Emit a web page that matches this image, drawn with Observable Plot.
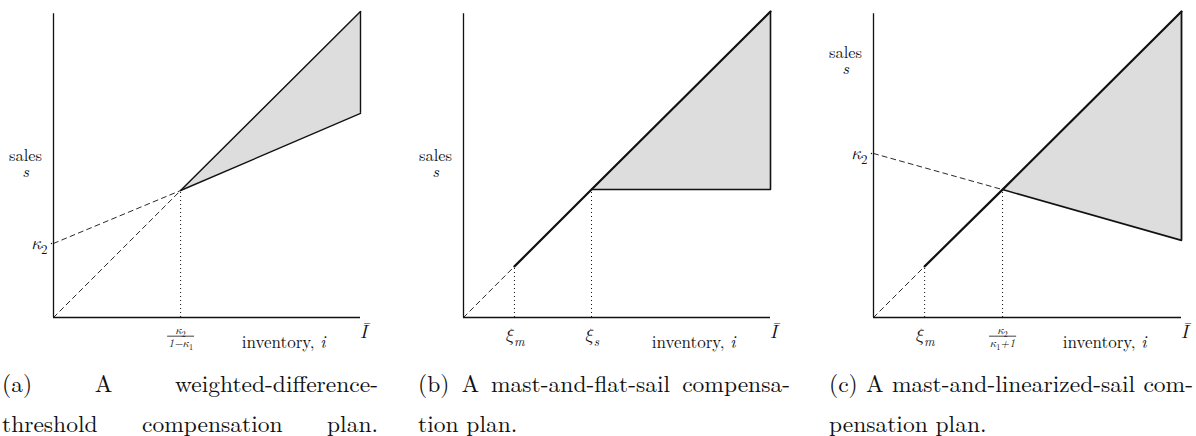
<!DOCTYPE html>
<html>
<head>
<meta charset="utf-8">
<script src="https://cdn.jsdelivr.net/npm/d3@7"></script>
<script src="https://cdn.jsdelivr.net/npm/@observablehq/plot@0.6"></script>
<style>
  html, body { margin: 0; padding: 0; background: #fff; }
  body { position: relative; width: 1196px; height: 436px; overflow: hidden; }
  .panel { position: absolute; top: 0; }
  .caption {
    position: absolute; top: 371px;
    font-family: 'Latin Modern Roman', 'CMU Serif', 'Liberation Serif', serif;
    font-size: 23.5px; line-height: 24px; color: #111;
  }
  .caption div { white-space: nowrap; text-align: left; height: 24px; }
  .caption div + div { margin-top: 16px; }
  .caption div.just { text-align: justify; text-align-last: justify; }
  svg text { font-family: 'Latin Modern Roman', 'Latin Modern Math', 'Liberation Serif', serif; }
</style>
</head>
<body>
<script>
// Inventory runs from 0 to Ī = 1; sales share the same unit.

// (a) weighted-difference-threshold plan: values at [0, κ2/(1−κ1), Ī]
const invA  = [0, 0.414, 1];
const mastA = [0, 0.415, 1.0];       // s = i
const sailA = [0.242, 0.415, 0.667]; // s = κ2 + κ1 i

// (b) mast-and-flat-sail plan: values at [0, ξm, ξs, Ī]
const invB  = [0, 0.166, 0.417, 1];
const mastB = [0, 0.167, 0.418, 1.0];
const sailB = [0.418, 0.418];        // flat sail at [ξs, Ī]

// (c) mast-and-linearized-sail plan: values at [0, ξm, κ2/(κ1+1), Ī]
const invC  = [0, 0.166, 0.419, 1];
const mastC = [0, 0.167, 0.418, 1.0];
const sailC = [0.536, 0.418, 0.252]; // sail at [0, κ2/(κ1+1), Ī]

// tick labels ("_x" = subscript, "{x}" = italic)
const ticksA = ["κ_2"];
const fracA  = ["κ_2", "1−κ_1"];
const ticksB = ["ξ_m", "ξ_s"];
const ticksC = ["κ_2", "ξ_m"];
const fracC  = ["κ_2", "κ_1+1"];

const captionA = ["(a) A weighted-difference-", "threshold compensation plan."];
const captionB = ["(b) A mast-and-flat-sail compensa-", "tion plan."];
const captionC = ["(c) A mast-and-linearized-sail com-", "pensation plan."];

const pts = (xs, ys) => xs.map((x, k) => ({i: x, s: ys[k]}));
const INK = "#111";
const FILL = "#dddddd";
const FONT = "Latin Modern Roman, Latin Modern Math, Liberation Serif, serif";

function axes() {
  return [
    Plot.ruleY([{s: 0, a: 0, b: 1}], {y: "s", x1: "a", x2: "b", stroke: INK, strokeWidth: 1.3}),
    Plot.ruleX([{i: 0, a: 0, b: 0.993}], {x: "i", y1: "a", y2: "b", stroke: INK, strokeWidth: 1.3})
  ];
}

const txt = {fill: INK, fontFamily: FONT};

function axisLabels(salesDy) {
  return [
    Plot.text(["sales"], {frameAnchor: "left", textAnchor: "middle", dx: -28, dy: salesDy, fontSize: 16.5, ...txt}),
    Plot.text(["s"], {frameAnchor: "left", textAnchor: "middle", dx: -28, dy: salesDy + 16, fontSize: 16.5, fontStyle: "italic", ...txt}),
    Plot.text(["inventory, {i}"], {frameAnchor: "bottom-right", textAnchor: "end", dx: -35, dy: 30, fontSize: 17, ...txt}),
    Plot.text(["Ī"], {frameAnchor: "bottom-right", textAnchor: "middle", dx: 3, dy: 20, fontSize: 19, fontStyle: "italic", ...txt})
  ];
}

function fraction(x, labels) {
  return [
    Plot.text([{i: x, s: 0, t: labels[0]}], {x: "i", y: "s", text: "t", dy: 13, fontSize: 11.5, fontStyle: "italic", ...txt}),
    Plot.text([{i: x, s: 0, t: labels[1]}], {x: "i", y: "s", text: "t", dy: 26, fontSize: 11.5, fontStyle: "italic", ...txt, ariaDescription: "denominator"})
  ];
}

function yTick(s, label) {
  return [
    Plot.text([{i: 0, s, t: label}], {x: "i", y: "s", text: "t", textAnchor: "end", dx: -6, fontSize: 18, fontStyle: "italic", ...txt}),
    Plot.dot([{i: 0, s}], {x: "i", y: "s", r: 0.7, dx: -2, fill: INK, stroke: null})
  ];
}

function xTick(i, label) {
  return Plot.text([{i, s: 0, t: label}], {x: "i", y: "s", text: "t", dy: 18, fontSize: 18, fontStyle: "italic", ...txt});
}

const dashed = {x: "i", y: "s", stroke: INK, strokeWidth: 0.9, strokeDasharray: "5,4"};
const dotted = {stroke: INK, strokeWidth: 1, strokeDasharray: "1,3"};

function frame(left, right, marks) {
  return Plot.plot({
    width: 400, height: 360,
    marginLeft: left, marginRight: right, marginTop: 11, marginBottom: 43,
    x: {domain: [0, 1], axis: null},
    y: {domain: [0, 1], axis: null},
    style: {background: "transparent", overflow: "visible"},
    marks
  });
}

// (a)
const bandA = [1, 2].map((k) => ({i: invA[k], lo: sailA[k], hi: mastA[k]}));
const plotA = frame(53, 40, [
  Plot.areaY(bandA, {x: "i", y1: "lo", y2: "hi", fill: FILL}),
  ...axes(),
  Plot.line(pts(invA, mastA).slice(0, 2), dashed),
  Plot.line(pts(invA, sailA).slice(0, 2), dashed),
  Plot.line(pts(invA, mastA).slice(1), {x: "i", y: "s", stroke: INK, strokeWidth: 1.4}),
  Plot.line(pts(invA, sailA).slice(1), {x: "i", y: "s", stroke: INK, strokeWidth: 1.4}),
  Plot.ruleX([bandA[1]], {x: "i", y1: "lo", y2: "hi", stroke: INK, strokeWidth: 1.4}),
  Plot.ruleX([{i: invA[1], s: mastA[1]}], {x: "i", y1: 0, y2: "s", ...dotted}),
  ...yTick(sailA[0], ticksA[0]),
  ...fraction(invA[1], fracA),
  ...axisLabels(-9)
]);

// (b)
const bandB = [{i: invB[2], lo: sailB[0], hi: mastB[2]}, {i: invB[3], lo: sailB[1], hi: mastB[3]}];
const plotB = frame(63, 30, [
  Plot.areaY(bandB, {x: "i", y1: "lo", y2: "hi", fill: FILL}),
  ...axes(),
  Plot.line(pts(invB, mastB).slice(0, 2), dashed),
  Plot.line(pts([invB[2], invB[3]], sailB), {x: "i", y: "s", stroke: INK, strokeWidth: 1.5}),
  Plot.ruleX([bandB[1]], {x: "i", y1: "lo", y2: "hi", stroke: INK, strokeWidth: 1.6}),
  Plot.line(pts(invB, mastB).slice(1), {x: "i", y: "s", stroke: INK, strokeWidth: 2.2}),
  Plot.ruleX(pts(invB, mastB).slice(1, 3), {x: "i", y1: 0, y2: "s", ...dotted}),
  xTick(invB[1], ticksB[0]),
  xTick(invB[2], ticksB[1]),
  ...axisLabels(-9)
]);

// (c)
const bandC = [{i: invC[2], lo: sailC[1], hi: mastC[2]}, {i: invC[3], lo: sailC[2], hi: mastC[3]}];
const sailPtsC = pts([invC[0], invC[2], invC[3]], sailC);
const plotC = frame(77, 15, [
  Plot.areaY(bandC, {x: "i", y1: "lo", y2: "hi", fill: FILL}),
  ...axes(),
  Plot.line(pts(invC, mastC).slice(0, 2), dashed),
  Plot.line(sailPtsC.slice(0, 2), dashed),
  Plot.line(sailPtsC.slice(1), {x: "i", y: "s", stroke: INK, strokeWidth: 1.6}),
  Plot.ruleX([bandC[1]], {x: "i", y1: "lo", y2: "hi", stroke: INK, strokeWidth: 1.8}),
  Plot.line(pts(invC, mastC).slice(1), {x: "i", y: "s", stroke: INK, strokeWidth: 2.2}),
  Plot.ruleX(pts(invC, mastC).slice(1, 3), {x: "i", y1: 0, y2: "s", ...dotted}),
  ...yTick(sailC[0], ticksC[0]),
  xTick(invC[1], ticksC[1]),
  ...fraction(invC[2], fracC),
  ...axisLabels(-112)
]);

// Place the three panels and their captions
const layout = [
  {plot: plotA, left: 0,   cap: captionA, capLeft: 2,   capWidth: 376, justify: [true, true]},
  {plot: plotB, left: 400, cap: captionB, capLeft: 418, capWidth: 372, justify: [true, false]},
  {plot: plotC, left: 796, cap: captionC, capLeft: 829, capWidth: 364, justify: [true, false]}
];

for (const p of layout) {
  const wrap = document.createElement("div");
  wrap.className = "panel";
  wrap.style.left = p.left + "px";
  wrap.appendChild(p.plot);
  document.body.appendChild(wrap);

  const cap = document.createElement("div");
  cap.className = "caption";
  cap.style.left = p.capLeft + "px";
  cap.style.width = p.capWidth + "px";
  p.cap.forEach((line, k) => {
    const d = document.createElement("div");
    if (p.justify[k]) d.className = "just";
    d.textContent = line;
    cap.appendChild(d);
  });
  document.body.appendChild(cap);
}

// Math typesetting: "_x" lowers one character as a subscript, "{...}" is italic.
function typeset(svg) {
  d3.select(svg).selectAll("text").each(function () {
    const src = this.textContent;
    if (!/[_{]/.test(src)) return;
    const size = parseFloat(getComputedStyle(this).fontSize) || 12;
    const shift = size * 0.28;
    const node = d3.select(this).text(null);
    let lowered = false;
    for (const part of src.match(/_.|\{[^}]*\}|[^_{]+/g)) {
      const t = node.append("tspan");
      if (part[0] === "_") {
        t.text(part.slice(1)).attr("font-size", size * 0.72).attr("font-style", /\d/.test(part) ? "normal" : "italic").attr("dy", shift);
        lowered = true;
      } else {
        if (lowered) { t.attr("dy", -shift); lowered = false; }
        if (part[0] === "{") t.text(part.slice(1, -1)).attr("font-style", "italic");
        else t.text(part);
      }
    }
  });
  // fraction bars over the denominators
  const box = svg.getBoundingClientRect();
  d3.select(svg).selectAll('g[aria-description="denominator"] text').each(function () {
    const r = this.getBoundingClientRect();
    d3.select(svg).append("line")
      .attr("x1", r.left - box.left - 1).attr("x2", r.right - box.left + 1)
      .attr("y1", r.top - box.top + 2).attr("y2", r.top - box.top + 2)
      .attr("stroke", INK).attr("stroke-width", 0.8);
  });
}

layout.forEach((p) => typeset(p.plot));
</script>
</body>
</html>
